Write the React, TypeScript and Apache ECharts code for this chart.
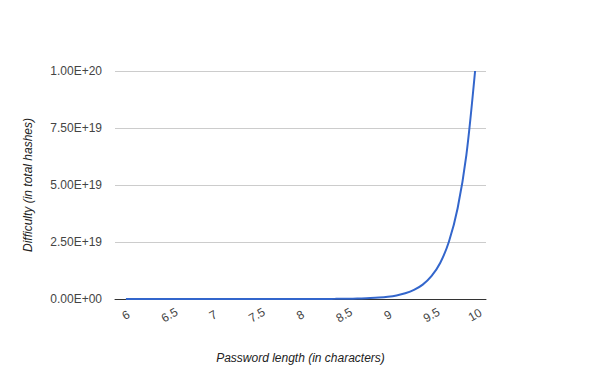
import React, { useEffect, useRef } from "react";
import * as echarts from "echarts";

// Password length in characters (step 0.1)
const lengths: number[] = [
  6.0, 6.1, 6.2, 6.3, 6.4, 6.5, 6.6, 6.7, 6.8, 6.9,
  7.0, 7.1, 7.2, 7.3, 7.4, 7.5, 7.6, 7.7, 7.8, 7.9,
  8.0, 8.1, 8.2, 8.3, 8.4, 8.5, 8.6, 8.7, 8.8, 8.9,
  9.0, 9.1, 9.2, 9.3, 9.4, 9.5, 9.6, 9.7, 9.8, 9.9,
  10.0,
];

// Difficulty (total hashes)
const difficulty: number[] = [
  1e12, 1.58e12, 2.51e12, 3.98e12, 6.31e12, 1e13, 1.58e13, 2.51e13, 3.98e13, 6.31e13,
  1e14, 1.58e14, 2.51e14, 3.98e14, 6.31e14, 1e15, 1.58e15, 2.51e15, 3.98e15, 6.31e15,
  1e16, 1.58e16, 2.51e16, 3.98e16, 6.31e16, 1e17, 1.58e17, 2.51e17, 3.98e17, 6.31e17,
  1e18, 1.58e18, 2.51e18, 3.98e18, 6.31e18, 1e19, 1.58e19, 2.51e19, 3.98e19, 6.31e19,
  1e20,
];

const yTicks: number[] = [0, 2.5e19, 5e19, 7.5e19, 1e20];

function sci(v: number): string {
  if (v === 0) return "0.00E+00";
  const e = Math.floor(Math.log10(v) + 1e-9);
  const m = v / Math.pow(10, e);
  return m.toFixed(2) + "E+" + (e < 10 ? "0" + e : String(e));
}

export default function App() {
  const ref = useRef<HTMLDivElement>(null);
  useEffect(() => {
    if (!ref.current) return;
    const chart = echarts.init(ref.current, undefined, { renderer: "svg" });
    const font = "Arial, 'Liberation Sans', sans-serif";
    chart.setOption({
      animation: false,
      backgroundColor: "#ffffff",
      grid: { left: 115, right: 114, top: 71, bottom: 72, containLabel: false },
      xAxis: {
        type: "value",
        min: 5.875,
        max: 10.125,
        interval: 0.125,
        name: "Password length (in characters)",
        nameLocation: "middle",
        nameGap: 53,
        nameTextStyle: { fontFamily: font, fontSize: 12, fontStyle: "italic", color: "#222" },
        axisLine: { show: true, lineStyle: { color: "#333", width: 1 } },
        axisTick: { show: false },
        splitLine: { show: false },
        axisLabel: {
          rotate: 30,
          align: "center",
          verticalAlign: "middle",
          margin: 16,
          fontFamily: font,
          fontSize: 12,
          color: "#444",
          showMinLabel: true,
          showMaxLabel: true,
          formatter: (v: number) => {
            const r = Math.round(v * 2) / 2;
            return Math.abs(r - v) < 1e-6 ? String(r) : "";
          },
        },
      },
      yAxis: {
        type: "value",
        min: 0,
        max: yTicks[yTicks.length - 1],
        interval: yTicks[1],
        name: "Difficulty (in total hashes)",
        nameLocation: "middle",
        nameGap: 81,
        nameTextStyle: { fontFamily: font, fontSize: 12, fontStyle: "italic", color: "#222" },
        axisLine: { show: false },
        axisTick: { show: false },
        splitLine: { show: true, lineStyle: { color: "#cccccc", width: 1 } },
        axisLabel: {
          margin: 13,
          fontFamily: font,
          fontSize: 12,
          color: "#444",
          formatter: (v: number) => sci(v),
        },
      },
      series: [
        {
          type: "line",
          data: lengths.map((x, i) => [x, difficulty[i]]),
          showSymbol: false,
          smooth: 0.3,
          lineStyle: { color: "#3366cc", width: 2 },
          itemStyle: { color: "#3366cc" },
        },
      ],
    });
    return () => chart.dispose();
  }, []);
  return <div ref={ref} style={{ width: 600, height: 371, position: "absolute", left: 0, top: 0 }} />;
}
